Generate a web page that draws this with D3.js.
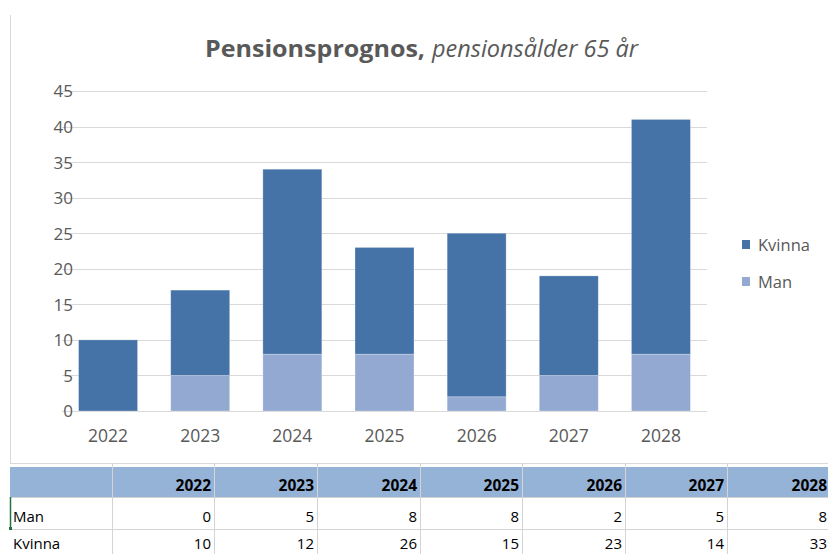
<!DOCTYPE html>
<html><head><meta charset="utf-8">
<script src="https://cdn.jsdelivr.net/npm/d3@7/dist/d3.min.js"></script>
<style>body{margin:0;background:#fff}svg{display:block}</style>
</head><body>
<svg id="c" width="828" height="554"></svg>
<script>
const years = ["2022","2023","2024","2025","2026","2027","2028"];
const man = [0,5,8,8,2,5,8];
const kvinna = [10,12,26,15,23,14,33];
const seriesNames = ["Man","Kvinna"];
const yTicks = [0,5,10,15,20,25,30,35,40,45];

const svg = d3.select("#c");
const colors = {Man:"#94a9d2", Kvinna:"#4573a8"};
const font = "'Open Sans', sans-serif";

const x = d3.scaleBand().domain(years).range([62,707]).paddingInner(0.36).paddingOuter(0.18);
const y = d3.scaleLinear().domain([0,45]).range([411,91]);

// chart box border
svg.append("line").attr("x1",10.5).attr("x2",10.5).attr("y1",15).attr("y2",463).attr("stroke","#d9d9d9");
svg.append("line").attr("x1",10).attr("x2",828).attr("y1",463.5).attr("y2",463.5).attr("stroke","#d9d9d9");

// gridlines
svg.append("g").selectAll("line").data(yTicks).join("line")
  .attr("x1",62).attr("x2",707).attr("y1",d=>Math.round(y(d))+0.5).attr("y2",d=>Math.round(y(d))+0.5)
  .attr("stroke","#d9d9d9").attr("stroke-width",1);

// y axis
const yAxis = d3.axisLeft(y).tickValues(yTicks).tickSize(0).tickPadding(0);
const gy = svg.append("g").attr("transform","translate(73,0)").call(yAxis);
gy.select(".domain").remove();
gy.selectAll("text").attr("fill","#595959").style("font-family",font).style("font-size","17px").attr("dy","0.35em");

// x axis
const xAxis = d3.axisBottom(x).tickSize(0).tickPadding(0);
const gx = svg.append("g").attr("transform","translate(0,428)").call(xAxis);
gx.select(".domain").remove();
gx.selectAll("text").attr("fill","#595959").style("font-family",font).style("font-size","17.5px").attr("dy","0.8em");

// stacked bars
const rows = years.map((yr,i)=>({year:yr, Man:man[i], Kvinna:kvinna[i]}));
const stack = d3.stack().keys(seriesNames)(rows);
svg.append("g").selectAll("g").data(stack).join("g")
  .attr("fill",d=>colors[d.key])
  .selectAll("rect").data(d=>d).join("rect")
  .attr("x",d=>x(d.data.year)).attr("width",x.bandwidth())
  .attr("y",d=>y(d[1])).attr("height",d=>y(d[0])-y(d[1]))
  .attr("stroke","#ffffff").attr("stroke-opacity",0.35).attr("stroke-width",0.75);

// title
const tg = svg.append("g").attr("fill","#595959").style("font-family",font).style("font-size","24px");
tg.append("text").attr("x",205).attr("y",57).attr("font-weight","bold")
  .attr("textLength",220).attr("lengthAdjust","spacingAndGlyphs").text("Pensionsprognos,");
tg.append("text").attr("x",432).attr("y",57).attr("font-style","italic")
  .attr("textLength",206).attr("lengthAdjust","spacingAndGlyphs").text("pensionsålder 65 år");

// legend
const legendOrder = ["Kvinna","Man"];
const lg = svg.append("g").selectAll("g").data(legendOrder).join("g")
  .attr("transform",(d,i)=>`translate(742,${240+i*37})`);
lg.append("rect").attr("width",8).attr("height",9).attr("fill",d=>colors[d]);
lg.append("text").attr("x",16).attr("y",11).text(d=>d)
  .attr("fill","#595959").style("font-family",font).style("font-size","16.5px");

// data table
const colX = [10,112,214,317,420,522,625,727,830];
const tbl = svg.append("g");
tbl.append("rect").attr("x",10).attr("y",467).attr("width",818).attr("height",30).attr("fill","#95b3d7");
tbl.selectAll("line.v").data(colX.slice(1,8)).join("line").attr("class","v")
  .attr("x1",d=>d+0.5).attr("x2",d=>d+0.5).attr("y1",463).attr("y2",554)
  .attr("stroke","#d4d4d4");
tbl.selectAll("line.h").data([497,529]).join("line").attr("class","h")
  .attr("x1",10).attr("x2",828).attr("y1",d=>d+0.5).attr("y2",d=>d+0.5).attr("stroke","#d4d4d4");
tbl.selectAll("text.hd").data(years).join("text").attr("class","hd")
  .attr("x",(d,i)=>colX[i+2]-3).attr("y",491).attr("text-anchor","end")
  .attr("font-weight","bold").attr("fill","#000").style("font-family",font).style("font-size","15.5px").text(d=>d);
const tableRows = [["Man",man],["Kvinna",kvinna]];
tableRows.forEach(([name,vals],r)=>{
  const by = 522 + r*27;
  tbl.append("text").attr("x",13).attr("y",by).text(name).attr("fill","#000").style("font-family",font).style("font-size","15px");
  tbl.selectAll(null).data(vals).join("text")
    .attr("x",(d,i)=>colX[i+2]-3).attr("y",by).attr("text-anchor","end")
    .attr("fill","#000").style("font-family",font).style("font-size","15px").text(d=>d);
});
// active cell marker
tbl.append("line").attr("x1",10.5).attr("x2",10.5).attr("y1",497).attr("y2",529).attr("stroke","#217346").attr("stroke-width",1.5);
tbl.append("rect").attr("x",9).attr("y",527).attr("width",3).attr("height",3).attr("fill","#217346");
</script>
</body></html>
